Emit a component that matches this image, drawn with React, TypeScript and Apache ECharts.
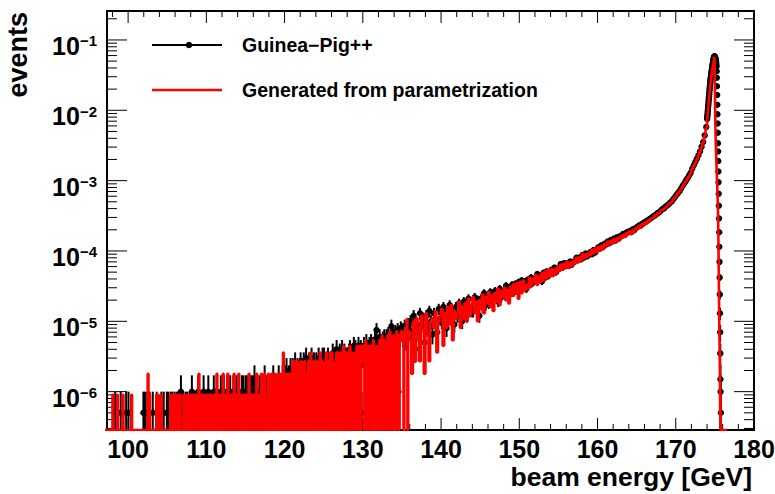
import React, { useEffect, useRef } from "react";
import * as echarts from "echarts";

// ---- axis ranges ----
const X_MIN = 97.3;
const X_MAX = 180;
const Y_MIN = 2.85e-7;
const Y_MAX = 0.258;

// ---- tick values ----
const xMajorTicks = [100, 110, 120, 130, 140, 150, 160, 170, 180];
const xMinorTicks = [98, 102, 104, 106, 108, 112, 114, 116, 118, 122, 124, 126, 128, 132, 134, 136, 138, 142, 144, 146, 148, 152, 154, 156, 158, 162, 164, 166, 168, 172, 174, 176, 178];
const yMajorTicks = [1e-6, 1e-5, 1e-4, 1e-3, 1e-2, 1e-1];
const yMinorMantissas = [2, 3, 4, 5, 6, 7, 8, 9];
const yMinorDecades = [1e-7, 1e-6, 1e-5, 1e-4, 1e-3, 1e-2, 1e-1];

// ---- histogram weights ----
const RED_ENTRY_WEIGHT = 0.9e-6;   // events per entry, parametrization sample
const BLACK_ENTRY_WEIGHT = 0.5e-6; // events per entry, Guinea-Pig++ sample
const MICRO = 1e-6;

// ---- low-energy region: 97.0 - 136.0 GeV, 0.1 GeV bins, entries per bin ----
const LOW_START = 97.0;
const LOW_WIDTH = 0.1;
const redLowEntries = [
  0,0,0,0,0,0,0,0,0,0,
  1,0,0,0,0,0,1,0,0,0,
  0,0,0,1,0,0,0,0,0,0,
  0,0,0,0,1,0,0,0,0,0,
  0,0,0,0,0,0,0,0,0,0,
  0,0,0,0,0,2,0,1,0,0,
  0,0,0,0,0,0,1,0,1,0,
  0,0,1,0,0,0,0,0,0,0,
  0,0,0,0,1,0,1,0,1,0,
  1,0,1,0,1,0,1,0,0,0,
  0,1,0,1,0,1,0,0,1,0,
  1,0,1,0,1,0,1,0,1,0,
  2,0,1,0,1,0,1,0,1,0,
  1,0,1,0,1,0,0,1,0,1,
  0,1,0,2,0,1,0,1,0,1,
  0,2,0,1,0,1,0,2,0,1,
  0,1,0,1,0,2,0,1,0,1,
  0,2,0,1,0,1,1,0,1,0,
  1,0,1,0,2,0,1,0,1,0,
  1,0,1,0,2,0,1,0,1,0,
  2,0,1,0,2,0,1,1,0,2,
  0,1,0,2,0,1,0,2,0,1,
  0,2,0,1,0,2,0,1,4,0,
  2,0,1,2,0,2,0,2,1,0,
  3,0,2,3,0,2,0,3,2,0,
  2,3,0,2,0,3,1,0,2,0,
  3,0,2,4,0,3,0,2,3,0,
  3,2,0,3,0,4,3,0,3,0,
  2,0,3,4,0,3,0,2,4,0,
  4,3,0,2,0,3,4,0,4,0,
  3,0,4,3,0,5,0,3,4,0,
  4,3,0,5,0,4,3,0,3,4,
  4,0,5,3,0,4,5,0,5,3,
  5,4,0,6,4,0,4,5,0,5,
  4,5,0,6,5,0,5,4,0,4,
  5,6,0,5,7,0,5,6,0,5,
  6,7,0,5,8,6,0,6,7,0,
  7,6,0,8,6,7,0,7,6,8,
  8,6,0,7,9,6,12,0,6,8,
];
const blackLowEntries = [
  0,0,0,0,0,0,0,0,0,0,
  0,0,0,1,0,0,0,0,0,0,
  1,0,0,0,0,0,0,1,0,0,
  1,0,0,0,0,0,0,0,0,0,
  0,0,0,0,0,0,0,0,0,1,
  0,1,0,0,1,0,0,1,0,0,
  0,1,0,0,0,0,1,0,0,0,
  0,0,1,0,0,1,0,0,0,1,
  0,1,0,0,1,0,1,0,0,1,
  0,0,1,0,1,0,0,2,0,0,
  1,0,0,1,0,1,0,0,1,0,
  0,2,0,0,1,0,1,0,0,2,
  0,1,0,1,0,0,2,0,1,0,
  1,0,2,0,0,1,0,1,0,2,
  0,1,0,2,0,1,0,0,2,0,
  1,0,2,0,1,0,2,0,1,0,
  2,0,1,0,2,0,1,0,2,0,
  0,2,0,1,0,2,0,2,0,1,
  2,0,2,0,1,2,0,2,0,2,
  0,3,0,2,0,2,0,1,2,0,
  2,0,2,0,3,0,2,0,2,1,
  0,2,0,2,0,3,0,2,0,2,
  2,0,3,0,2,0,2,3,0,2,
  3,0,4,2,0,3,1,4,3,0,
  4,3,1,5,2,0,4,3,2,4,
  5,2,4,2,5,1,3,6,2,4,
  4,5,1,3,6,4,2,5,3,1,
  5,4,2,6,3,5,1,4,6,5,
  6,2,5,4,1,6,5,3,2,5,
  5,7,2,6,4,1,8,5,6,2,
  7,5,2,8,6,4,7,1,6,5,
  6,2,7,8,5,6,1,7,9,6,
  8,6,7,2,9,7,6,8,1,7,
  7,9,6,8,10,2,8,7,9,8,
  10,8,2,9,7,11,8,15,9,8,
  9,12,8,10,1,11,9,12,10,8,
  12,10,13,11,9,12,17,10,13,11,
  11,14,12,10,15,2,13,12,16,14,
  15,12,14,17,13,11,16,14,18,15,
];

// ---- middle region: 136.0 - 174.0 GeV, 0.2 GeV bins, values in 1e-6 events ----
const MID_START = 136.0;
const MID_WIDTH = 0.2;
const redMid = [
  5.4, 1.8, 9.9, 2.7, 11,
  7.2, 2.7, 12, 8.1, 1.8,
  13, 6.3, 2.7, 9.9, 11,
  8.1, 14, 3.6, 10, 12,
  15, 4.5, 13, 8.1, 16,
  9, 17, 5.4, 14, 11,
  13, 19, 8.1, 16, 11,
  18, 10, 21, 12, 17,
  22, 13, 19, 10, 20,
  15, 24, 13, 22, 18,
  26, 16, 23, 14, 25,
  19, 29, 17, 27, 22,
  30, 20, 28, 18, 31,
  23, 34, 25, 35, 21,
  36, 25, 38, 27, 33,
  29, 42, 31, 40, 35,
  46, 33, 44, 36, 48,
  38, 51, 41, 53, 43,
  56, 44, 55, 47, 58,
  52, 64, 54, 66, 57,
  70, 58, 68, 61, 72,
  66, 80, 69, 82, 73,
  91, 79, 90, 82, 94,
  88, 104, 92, 108, 97,
  115, 102, 118, 106, 124,
  119, 135, 124, 140, 130,
  148, 134, 152, 140, 160,
  153, 170, 158, 180, 172,
  190, 176, 198, 186, 210,
  205, 228, 214, 240, 236,
  258, 247, 274, 268, 292,
  298, 322, 314, 345, 342,
  372, 381, 402, 412, 436,
  455, 480, 496, 545, 570,
  615, 660, 700, 765, 830,
  900, 980, 1060, 1150, 1260,
  1450, 1620, 1800, 2000, 2250,
  2550, 2950, 3450, 4300, 5600,
];
const blackMid = [
  10, 6, 12, 4, 9,
  7, 13, 9, 11, 5,
  12, 8, 14, 10, 6.5,
  13, 9.5, 7, 15, 11,
  10, 16, 12, 8, 14,
  17, 11, 14, 9, 16,
  12, 18, 15, 10, 19,
  17, 12, 21, 15, 14,
  14, 22, 16, 20, 12,
  21, 16, 25, 17, 23,
  18, 26, 20, 24, 27,
  25, 19, 29, 22, 26,
  27, 32, 23, 30, 26,
  33, 26, 34, 28, 36,
  30, 38, 31, 37, 29,
  39, 33, 42, 35, 40,
  38, 47, 40, 45, 37,
  49, 42, 51, 44, 50,
  54, 48, 58, 50, 56,
  56, 65, 58, 67, 61,
  67, 61, 71, 64, 70,
  71, 80, 74, 81, 76,
  88, 81, 92, 84, 89,
  97, 90, 103, 95, 104,
  113, 108, 121, 114, 127,
  124, 136, 129, 143, 137,
  150, 141, 157, 149, 163,
  164, 175, 170, 183, 186,
  192, 185, 204, 197, 214,
  219, 230, 228, 243, 248,
  260, 266, 276, 288, 296,
  310, 320, 330, 348, 356,
  376, 394, 402, 428, 442,
  462, 488, 510, 548, 585,
  630, 670, 715, 780, 850,
  920, 1000, 1080, 1180, 1290,
  1480, 1650, 1840, 2040, 2300,
  2600, 3020, 3550, 4400, 5800,
];

// ---- peak region: 174.0 - 176.6 GeV, 0.02 GeV bins, values in 1e-6 events ----
const PEAK_START = 174.0;
const PEAK_WIDTH = 0.02;
const redPeak = [
  6800, 7200, 7600, 8100, 8600, 9100, 9700, 10300, 11000, 11700,
  12400, 13100, 13900, 14700, 15600, 16500, 17500, 18500, 19600, 20700,
  21800, 23000, 24200, 25400, 26600, 27800, 29000, 30200, 31400, 32600,
  33800, 35000, 36200, 37400, 38600, 39800, 41000, 42300, 43600, 44900,
  46200, 48000, 50000, 52000, 54000, 56000, 57500, 58000, 50000, 32000,
  20000, 13000, 9000, 6500, 5000, 4000, 3300, 2800, 2400, 2050,
  1750, 1500, 1300, 1120, 970, 840, 720, 610, 510, 420,
  340, 260, 180, 120, 75, 45, 27, 16, 10, 6.3,
  4.5, 2.7, 1.8, 0.9, 0.9, 0, 0.9, 0, 0, 0,
  0, 0, 0, 0, 0, 0, 0, 0, 0, 0,
  0, 0, 0, 0, 0, 0, 0, 0, 0, 0,
  0, 0, 0, 0, 0, 0, 0, 0, 0, 0,
  0, 0, 0, 0, 0, 0, 0, 0, 0, 0,
];
const blackPeak = [
  7500, 8000, 8500, 9000, 9600, 10200, 10900, 11600, 12400, 13200,
  14000, 14900, 15800, 16800, 17800, 18900, 20000, 21200, 22400, 23600,
  24800, 26000, 27200, 28400, 29600, 30800, 32000, 33300, 34600, 36000,
  37400, 38800, 40200, 41600, 43000, 44400, 45800, 47200, 48600, 50000,
  51400, 52800, 54200, 55500, 56700, 57700, 58300, 58500, 58300, 57800,
  57000, 56000, 55000, 54000, 53000, 52000, 50500, 49000, 47000, 44000,
  42000, 36000, 29000, 22000, 16500, 12000, 8800, 6500, 4800, 3400,
  2600, 1900, 1350, 950, 650, 440, 290, 185, 115, 70,
  42, 24, 13, 7, 3.5, 1.5, 1, 0, 0.5, 0,
  0, 0, 0, 0, 0, 0, 0, 0, 0, 0,
  0, 0, 0, 0, 0, 0, 0, 0, 0, 0,
  0, 0, 0, 0, 0, 0, 0, 0, 0, 0,
  0, 0, 0, 0, 0, 0, 0, 0, 0, 0,
];

const FONT = '"Liberation Sans", Arial, Helvetica, sans-serif';

type Bin = { lo: number; hi: number; v: number };
function toBins(start: number, width: number, values: number[], unit: number): Bin[] {
  return values.map((val, i) => ({ lo: start + i * width, hi: start + (i + 1) * width, v: val * unit }));
}

const redBins: Bin[] = [
  ...toBins(LOW_START, LOW_WIDTH, redLowEntries, RED_ENTRY_WEIGHT),
  ...toBins(MID_START, MID_WIDTH, redMid, MICRO),
  ...toBins(PEAK_START, PEAK_WIDTH, redPeak, MICRO),
];
const blackBins: Bin[] = [
  ...toBins(LOW_START, LOW_WIDTH, blackLowEntries, BLACK_ENTRY_WEIGHT),
  ...toBins(MID_START, MID_WIDTH, blackMid, MICRO),
  ...toBins(PEAK_START, PEAK_WIDTH, blackPeak, MICRO),
];

function buildOption(): any {
  const redLine: number[][] = [];
  redBins.forEach((b) => {
    const y = b.v > 0 ? b.v : Y_MIN;
    redLine.push([b.lo, y], [b.hi, y]);
  });
  const blackPoints = blackBins
    .filter((b) => b.v > 0 && b.lo >= X_MIN - 1e-9)
    .map((b) => [(b.lo + b.hi) / 2, b.v, Math.sqrt(b.v * BLACK_ENTRY_WEIGHT)]);

  const yMinorTicks: number[] = [];
  yMinorDecades.forEach((d) => yMinorMantissas.forEach((m) => {
    const t = m * d;
    if (t > Y_MIN && t < Y_MAX) yMinorTicks.push(t);
  }));

  const supMinus = (n: number) => (n < 0 ? "\u2212" + String(-n) : String(n));

  return {
    animation: false,
    backgroundColor: "#ffffff",
    grid: {
      left: 107, top: 11, width: 647, height: 419,
      show: true, borderColor: "#000", borderWidth: 2, backgroundColor: "transparent",
      containLabel: false, outerBoundsMode: "none",
    },
    xAxis: {
      type: "value", min: X_MIN, max: X_MAX, splitNumber: 8, minInterval: 10, maxInterval: 10,
      axisLine: { show: false }, axisTick: { show: false }, splitLine: { show: false },
      axisLabel: {
        margin: 8.5, color: "#000", fontSize: 25, lineHeight: 20, fontWeight: "bold", fontFamily: FONT,
        formatter: (v: number) => (Math.abs(v - Math.round(v / 10) * 10) < 1e-6 ? String(Math.round(v)) : ""),
      },
    },
    yAxis: {
      type: "log", logBase: 10, min: Y_MIN, max: Y_MAX,
      axisLine: { show: false }, axisTick: { show: false }, splitLine: { show: false },
      axisLabel: {
        margin: 10, padding: [12, 0, 0, 0],
        formatter: (v: number) => {
          const e = Math.log10(v);
          const r = Math.round(e);
          if (Math.abs(e - r) > 1e-6) return "";
          return "{b|10}{e|" + supMinus(r) + "}";
        },
        rich: {
          b: { fontSize: 25, fontWeight: "bold", fontFamily: FONT, color: "#000", lineHeight: 25, verticalAlign: "bottom" },
          e: { fontSize: 15, fontWeight: "bold", fontFamily: FONT, color: "#000", lineHeight: 10, verticalAlign: "top" },
        },
      },
    },
    series: [
      {
        name: "Guinea\u2212Pig++",
        type: "custom",
        coordinateSystem: "cartesian2d",
        clip: true,
        silent: true,
        progressive: 0,
        dimensions: ["x", "y", "err"],
        encode: { x: 0, y: 1 },
        data: blackPoints,
        renderItem: (params: any, api: any) => {
          const x = api.value(0);
          const v = api.value(1);
          const err = api.value(2);
          if (!(v > 0)) return null;
          const cs = params.coordSys;
          const p = api.coord([x, v]);
          const topY = Math.max(api.coord([x, v + err])[1], cs.y);
          const low = v - err;
          const botY = low > Y_MIN ? api.coord([x, low])[1] : cs.y + cs.height;
          return {
            type: "group",
            children: [
              { type: "line", shape: { x1: p[0], y1: topY, x2: p[0], y2: botY }, style: { stroke: "#000", lineWidth: 2 } },
              { type: "circle", shape: { cx: p[0], cy: p[1], r: 3.2 }, style: { fill: "#000" } },
            ],
          };
        },
      },
      {
        name: "Generated from parametrization",
        type: "line",
        data: redLine,
        showSymbol: false,
        symbol: "none",
        clip: true,
        silent: true,
        lineStyle: { color: "#ff0000", width: 2.6 },
      },
      {
        name: "ticks",
        type: "custom",
        coordinateSystem: "cartesian2d",
        silent: true,
        data: [[150, 1e-3]],
        renderItem: (params: any, api: any) => {
          const cs = params.coordSys;
          const left = cs.x, right = cs.x + cs.width, top = cs.y, bottom = cs.y + cs.height;
          const children: any[] = [];
          const st = { stroke: "#000", lineWidth: 1 };
          const addX = (t: number, len: number) => {
            const px = api.coord([t, Y_MIN])[0];
            children.push({ type: "line", shape: { x1: px, y1: bottom, x2: px, y2: bottom - len }, style: st });
            children.push({ type: "line", shape: { x1: px, y1: top, x2: px, y2: top + len }, style: st });
          };
          const addY = (t: number, len: number) => {
            const py = api.coord([X_MIN, t])[1];
            children.push({ type: "line", shape: { x1: left, y1: py, x2: left + len, y2: py }, style: st });
            children.push({ type: "line", shape: { x1: right, y1: py, x2: right - len, y2: py }, style: st });
          };
          xMajorTicks.forEach((t) => addX(t, 12));
          xMinorTicks.forEach((t) => addX(t, 6));
          yMajorTicks.forEach((t) => addY(t, 20));
          yMinorTicks.forEach((t) => addY(t, 10));
          return { type: "group", children };
        },
      },
    ],
    graphic: [
      { type: "line", shape: { x1: 152, y1: 45, x2: 222, y2: 45 }, style: { stroke: "#000", lineWidth: 2 } },
      { type: "circle", shape: { cx: 189, cy: 45, r: 3.3 }, style: { fill: "#000" } },
      {
        type: "text", x: 242, y: 44.5,
        style: { text: "Guinea\u2212Pig++", fill: "#000", font: `bold 19.5px ${FONT}`, textAlign: "left", textVerticalAlign: "middle", verticalAlign: "middle" },
      },
      { type: "line", shape: { x1: 152, y1: 90, x2: 222, y2: 90 }, style: { stroke: "#ff0000", lineWidth: 2.5 } },
      {
        type: "text", x: 242, y: 90,
        style: { text: "Generated from parametrization", fill: "#000", font: `bold 19.5px ${FONT}`, textAlign: "left", textVerticalAlign: "middle", verticalAlign: "middle" },
      },
      {
        type: "text", x: 752, y: 476.5,
        style: { text: "beam energy [GeV]", fill: "#000", font: `bold 26.5px ${FONT}`, textAlign: "right", textVerticalAlign: "middle", verticalAlign: "middle" },
      },
      {
        type: "text", x: 18, y: 12, rotation: Math.PI / 2,
        style: { text: "events", fill: "#000", font: `bold 27px ${FONT}`, textAlign: "right", textVerticalAlign: "middle", verticalAlign: "middle" },
      },
    ],
  };
}

export default function App() {
  const ref = useRef<HTMLDivElement>(null);
  useEffect(() => {
    if (!ref.current) return;
    const chart = echarts.init(ref.current, undefined, { renderer: "svg" });
    chart.setOption(buildOption());
    return () => chart.dispose();
  }, []);
  return (
    <div
      ref={ref}
      style={{ position: "absolute", left: 0, top: 0, width: 775, height: 494, background: "#fff" }}
    />
  );
}
